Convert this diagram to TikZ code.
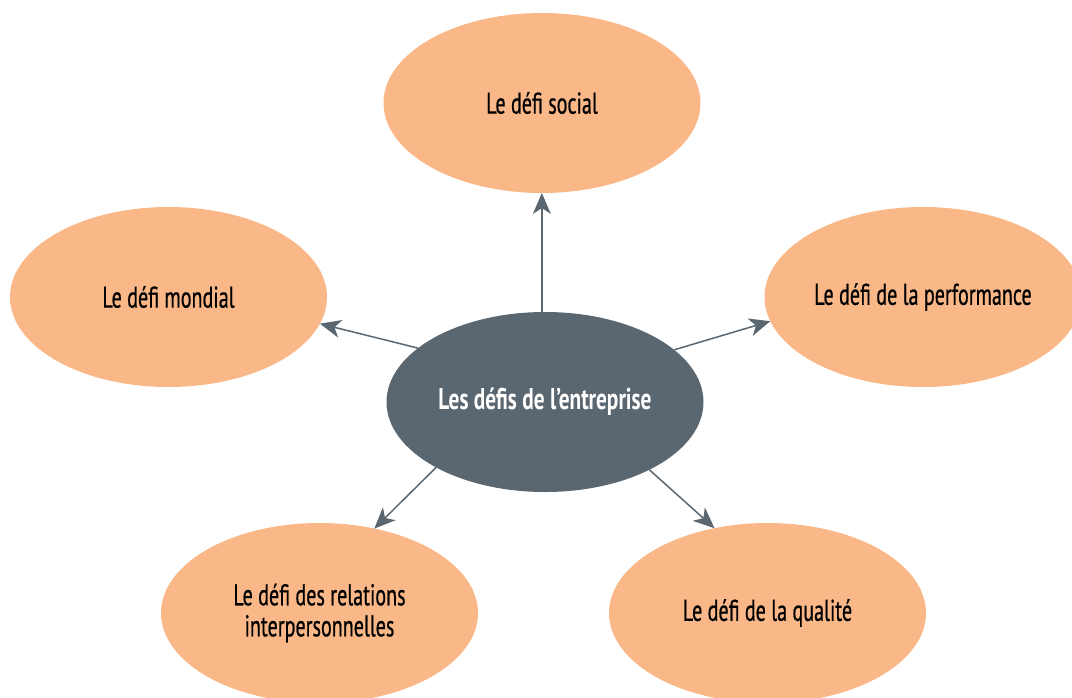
\documentclass[tikz,border=0pt]{standalone}
\usepackage{fontspec}
\setmainfont{PT Sans}[FakeStretch=0.67]
\newfontfamily\labelfont{PT Sans}[FakeStretch=0.67, FakeBold=0.6]
\newfontfamily\hubfont{PT Sans Bold}[FakeStretch=0.71]
\usetikzlibrary{arrows.meta,shapes.geometric}
\definecolor{peach}{HTML}{FAB888}
\definecolor{slate}{HTML}{5B6770}
\begin{document}
\begin{tikzpicture}[x=1pt,y=-1pt,
  bubble/.style={ellipse, fill=peach, minimum width=317pt, minimum height=180pt,
    inner sep=0pt, outer sep=0pt, font=\labelfont\fontsize{30}{31}\selectfont, align=center, text=black},
  hub/.style={bubble, fill=slate, text=white, font=\hubfont\fontsize{30}{31}\selectfont},
  link/.style={draw=slate, line width=1.5pt, -{Stealth[length=21pt,width=18pt,inset=6pt]}}]
\useasboundingbox (0,0) rectangle (1072,697);
\clip (0,0) rectangle (1072,697);
\node[hub]    (c) at (545,402)   {Les défis de l’entreprise};
\node[bubble] (t) at (542,103)   {Le défi social};
\node[bubble] (l) at (168.5,297) {Le défi mondial};
\node[bubble] (r) at (923,297)   {Le défi de la performance};
\node[bubble] (bl) at (319.5,613) {Le défi des relations\\interpersonnelles};
\node[bubble] (br) at (767.5,613) {Le défi de la qualité};
\draw[link] (c.92.5) -- (c.92.5 |- t.south);
\draw[link] (c.157) -- (l.350.8);
\draw[link] (c.22.5) -- (r.189.1);
\draw[link] (c.211.4) -- (bl.57.3);
\draw[link] (c.327.8) -- (br.122.2);
\end{tikzpicture}
\end{document}
